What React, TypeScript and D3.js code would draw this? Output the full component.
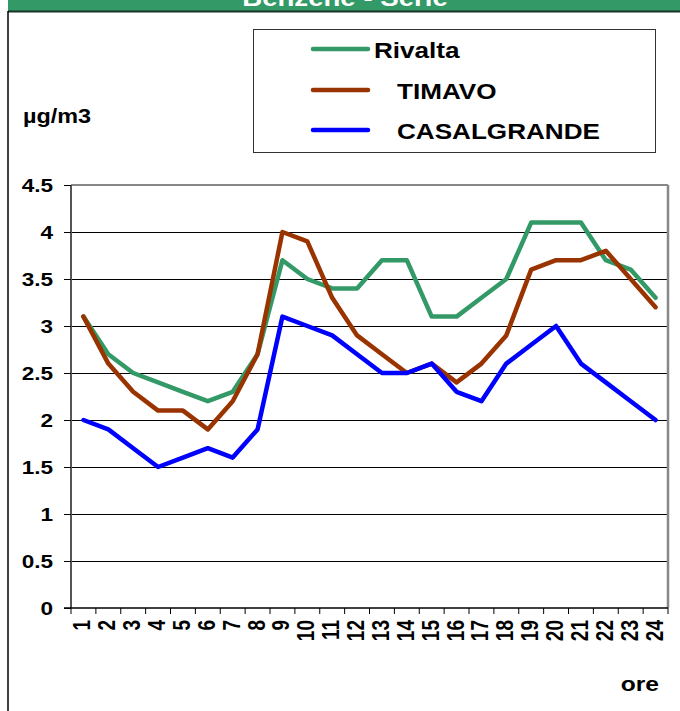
import React from "react";
import * as d3 from "d3";

const hours = ["1","2","3","4","5","6","7","8","9","10","11","12","13","14","15","16","17","18","19","20","21","22","23","24"];
const rivalta = [3.1,2.7,2.5,2.4,2.3,2.2,2.3,2.7,3.7,3.5,3.4,3.4,3.7,3.7,3.1,3.1,3.3,3.5,4.1,4.1,4.1,3.7,3.6,3.3];
const timavo = [3.1,2.6,2.3,2.1,2.1,1.9,2.2,2.7,4.0,3.9,3.3,2.9,2.7,2.5,2.6,2.4,2.6,2.9,3.6,3.7,3.7,3.8,3.5,3.2];
const casalgrande = [2.0,1.9,1.7,1.5,1.6,1.7,1.6,1.9,3.1,3.0,2.9,2.7,2.5,2.5,2.6,2.3,2.2,2.6,2.8,3.0,2.6,2.4,2.2,2.0];
const yTicks = [0,0.5,1,1.5,2,2.5,3,3.5,4,4.5];
const yTickLabels = ["0","0.5","1","1.5","2","2.5","3","3.5","4","4.5"];
const seriesNames = ["Rivalta","TIMAVO","CASALGRANDE"];
const seriesColors = ["#339966","#993300","#0000FF"];
const title = "Benzene - Serie";
const yLabel = "\u00b5g/m3";
const xLabel = "ore";

const FONT = "'Liberation Sans', Arial, sans-serif";

function T(props: { x: number; y: number; sx?: number; size: number; anchor?: string; fill?: string; rot?: number; children: any }) {
  const { x, y, sx = 1, size, anchor = "start", fill = "#000", rot = 0, children } = props;
  const tr = rot ? `translate(${x},${y}) rotate(${rot}) scale(1,${sx})` : `translate(${x},${y}) scale(${sx},1)`;
  return (
    <text transform={tr} fontFamily={FONT} fontWeight="bold" fontSize={size} textAnchor={anchor} fill={fill}>
      {children}
    </text>
  );
}

export default function App() {
  const W = 680, H = 711;
  const left = 71, right = 668, top = 185, bottom = 608;
  const x = d3.scaleBand<string>().domain(hours).range([left, right]);
  const y = d3.scaleLinear().domain([0, 4.5]).range([bottom, top]);
  const series = [rivalta, timavo, casalgrande];
  const line = d3.line<number>()
    .x((_, i) => (x(hours[i]) as number) + x.bandwidth() / 2)
    .y((d) => y(d));
  const bounds = hours.map((h) => x(h) as number).concat([right]);
  const px = (v: number) => Math.round(v) + 0.5;

  return (
    <svg width={W} height={H} style={{ position: "absolute", left: 0, top: 0, background: "#fff" }}>
      {/* title bar */}
      <rect x={8} y={0} width={W - 8} height={11} fill="#339966" />
      <line x1={8} x2={W} y1={11.5} y2={11.5} stroke="#1a3326" strokeWidth={2} />
      <T x={345} y={6} size={24} sx={1.15} anchor="middle" fill="#fff">{title}</T>
      {/* outer frame left */}
      <line x1={8} x2={8} y1={11} y2={H} stroke="#000" strokeWidth={1.5} />

      {/* legend */}
      <rect x={253.5} y={29.5} width={402} height={123} fill="#fff" stroke="#333" strokeWidth={1} />
      {seriesNames.map((n, i) => {
        const ly = [49, 90, 130][i];
        const tx = i === 0 ? 374 : 397;
        return (
          <g key={n}>
            <line x1={313} x2={368} y1={ly} y2={ly} stroke={seriesColors[i]} strokeWidth={4.5} strokeLinecap="round" />
            <T x={tx} y={ly + 8.5} size={22.5} sx={1.16}>{n}</T>
          </g>
        );
      })}

      {/* y label */}
      <T x={23} y={123} size={19.5} sx={1.2}>{yLabel}</T>

      {/* grid */}
      {yTicks.filter((t) => t > 0 && t < 4.5).map((t) => (
        <line key={t} x1={left} x2={right} y1={px(y(t))} y2={px(y(t))} stroke="#000" strokeWidth={1} />
      ))}
      {/* plot border top/right */}
      <line x1={left} x2={right} y1={top} y2={top} stroke="#888" strokeWidth={2} />
      <line x1={right} x2={right} y1={top} y2={bottom} stroke="#888" strokeWidth={2.5} />
      {/* y axis */}
      <line x1={left} x2={left} y1={top} y2={bottom} stroke="#555" strokeWidth={2} />
      {yTicks.map((t, i) => (
        <g key={"yt" + t}>
          <line x1={left - 7} x2={left} y1={px(y(t))} y2={px(y(t))} stroke="#000" strokeWidth={1} />
          <T x={left - 18} y={y(t) + 6.5} size={18.5} sx={1.22} anchor="end">{yTickLabels[i]}</T>
        </g>
      ))}
      {/* x axis */}
      <line x1={left - 7} x2={right} y1={bottom} y2={bottom} stroke="#000" strokeWidth={1.5} />
      {bounds.map((b, i) => (
        <line key={"xt" + i} x1={b} x2={b} y1={bottom} y2={bottom + 6} stroke="#000" strokeWidth={1} />
      ))}
      {hours.map((h) => (
        <T key={"xl" + h} x={(x(h) as number) + x.bandwidth() / 2 + 7} y={620} size={19} sx={1.25} rot={-90} anchor="end">{h}</T>
      ))}
      <T x={659} y={691} size={20.5} sx={1.2} anchor="end">{xLabel}</T>

      {/* lines */}
      {series.map((s, i) => (
        <path key={seriesNames[i]} d={line(s) as string} fill="none" stroke={seriesColors[i]} strokeWidth={4.5} strokeLinejoin="round" strokeLinecap="round" />
      ))}
    </svg>
  );
}
